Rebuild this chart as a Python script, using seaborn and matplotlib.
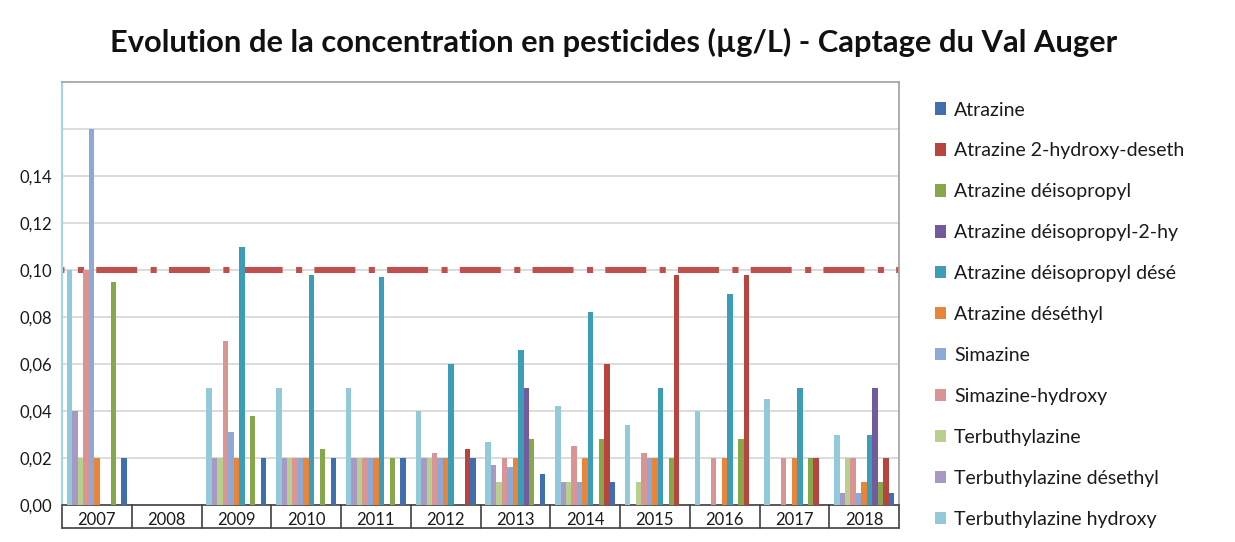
import numpy as np
import pandas as pd
import matplotlib
matplotlib.use("Agg")
import matplotlib.pyplot as plt
import matplotlib.transforms as mtransforms
import seaborn as sns

# Sampling years
years = ["2007", "2008", "2009", "2010", "2011", "2012",
         "2013", "2014", "2015", "2016", "2017", "2018"]

# Concentrations in µg/L (None = not detected / no measure)
atrazine = [0.02, None, 0.02, 0.02, 0.02, 0.02, 0.013, 0.01, None, None, None, 0.005]
atrazine_2_hydroxy_deseth = [None, None, None, None, None, 0.024, None, 0.06, 0.098, 0.098, 0.02, 0.02]
atrazine_deisopropyl = [0.095, None, 0.038, 0.024, 0.02, None, 0.028, 0.028, 0.02, 0.028, 0.02, 0.01]
atrazine_deisopropyl_2_hy = [None, None, None, None, None, None, 0.05, None, None, None, None, 0.05]
atrazine_deisopropyl_dese = [None, None, 0.11, 0.098, 0.097, 0.06, 0.066, 0.082, 0.05, 0.09, 0.05, 0.03]
atrazine_desethyl = [0.02, None, 0.02, 0.02, 0.02, 0.02, 0.02, 0.02, 0.02, 0.02, 0.02, 0.01]
simazine = [0.16, None, 0.031, 0.02, 0.02, 0.02, 0.016, 0.01, 0.02, None, None, 0.005]
simazine_hydroxy = [0.10, None, 0.07, 0.02, 0.02, 0.022, 0.02, 0.025, 0.022, 0.02, 0.02, 0.02]
terbuthylazine = [0.02, None, 0.02, 0.02, 0.02, 0.02, 0.01, 0.01, 0.01, None, None, 0.02]
terbuthylazine_desethyl = [0.04, None, 0.02, 0.02, 0.02, 0.02, 0.017, 0.01, None, None, None, 0.005]
terbuthylazine_hydroxy = [0.10, None, 0.05, 0.05, 0.05, 0.04, 0.027, 0.042, 0.034, 0.04, 0.045, 0.03]

series_names = [
    "Atrazine",
    "Atrazine 2-hydroxy-deseth",
    "Atrazine déisopropyl",
    "Atrazine déisopropyl-2-hy",
    "Atrazine déisopropyl désé",
    "Atrazine déséthyl",
    "Simazine",
    "Simazine-hydroxy",
    "Terbuthylazine",
    "Terbuthylazine désethyl",
    "Terbuthylazine hydroxy",
]
series_values = [
    atrazine, atrazine_2_hydroxy_deseth, atrazine_deisopropyl,
    atrazine_deisopropyl_2_hy, atrazine_deisopropyl_dese, atrazine_desethyl,
    simazine, simazine_hydroxy, terbuthylazine, terbuthylazine_desethyl,
    terbuthylazine_hydroxy,
]
series_colors = [
    "#3F6FAE", "#B8443F", "#86A84A", "#735A9C", "#3C9DB6", "#E8853A",
    "#8FA9D7", "#D99593", "#B7D08E", "#A898C4", "#93CADB",
]

# Regulatory limit per pesticide
limit = 0.10

rows = []
for name, vals in zip(series_names, series_values):
    for y, v in zip(years, vals):
        if v is not None:
            rows.append({"Année": y, "Pesticide": name, "Concentration": v})
df = pd.DataFrame(rows)

sns.set_style("white")
plt.rcParams["font.family"] = ["Lato", "DejaVu Sans"]

fig = plt.figure(figsize=(12.35, 5.42), dpi=100)
W, H = 1235, 542
ax = fig.add_axes([62 / W, 1 - 505 / H, (899 - 62) / W, (505 - 82) / H])

palette = dict(zip(series_names, series_colors))
bar_order = series_names[::-1]

sns.barplot(data=df, x="Année", y="Concentration", hue="Pesticide",
            order=years, hue_order=bar_order, palette=palette,
            width=0.86, errorbar=None, saturation=1, ax=ax, zorder=3,
            linewidth=0, edgecolor="none")

# Limit line
ax.axhline(limit, color="#C0504D", lw=4.4, zorder=2,
           linestyle=(6.3, (6.7, 2.2, 1.0, 2.0)), dash_capstyle="butt")

# Axes and grid
ax.set_xlim(-0.5, len(years) - 0.5)
ax.set_ylim(0, 0.18)
ticks = np.arange(0, 0.161, 0.02)
ax.set_yticks(ticks)
ax.set_yticklabels([f"{t:.2f}".replace(".", ",") for t in ticks[:-1]] + [""])
ax.yaxis.grid(True, color="#D9D9D9", lw=1.3, zorder=0)
ax.set_axisbelow(True)
ax.tick_params(axis="y", length=0, pad=7, labelsize=12, labelcolor="#1A1A1A")
ax.tick_params(axis="x", length=0, pad=5, labelsize=12, labelcolor="#1A1A1A")
ax.set_xlabel("")
ax.set_ylabel("")

ax.spines["left"].set_color("#A8D4E2")
ax.spines["left"].set_linewidth(1.6)
ax.spines["top"].set_color("#A6A6A6")
ax.spines["top"].set_linewidth(1.3)
ax.spines["right"].set_color("#A6A6A6")
ax.spines["right"].set_linewidth(1.3)
ax.spines["bottom"].set_color("#404040")
ax.spines["bottom"].set_linewidth(1.2)

# Category boxes under the axis
trans = mtransforms.blended_transform_factory(ax.transData, ax.transAxes)
box_bottom = -23 / 423
for b in np.arange(-0.5, len(years), 1.0):
    ax.plot([b, b], [0, box_bottom], transform=trans, color="#404040",
            lw=1.2, clip_on=False)
ax.plot([-0.5, len(years) - 0.5], [box_bottom, box_bottom], transform=trans,
        color="#404040", lw=1.2, clip_on=False)

# Legend in the original series order
handles, labels = ax.get_legend_handles_labels()
ax.get_legend().remove()
lookup = dict(zip(labels, handles))
fig.legend([lookup[n] for n in series_names], series_names,
           loc="upper left", bbox_to_anchor=(917 / W, 1 - 84 / H),
           frameon=False, fontsize=14, handlelength=0.6, handleheight=0.6,
           handletextpad=0.4, labelspacing=1.23, labelcolor="#1A1A1A")

fig.text(614 / W, 1 - 42 / H,
         "Evolution de la concentration en pesticides (µg/L) - Captage du Val Auger",
         ha="center", va="center", fontsize=22.2, fontweight="bold", color="#111111")

fig.savefig("out.png", dpi=100)
